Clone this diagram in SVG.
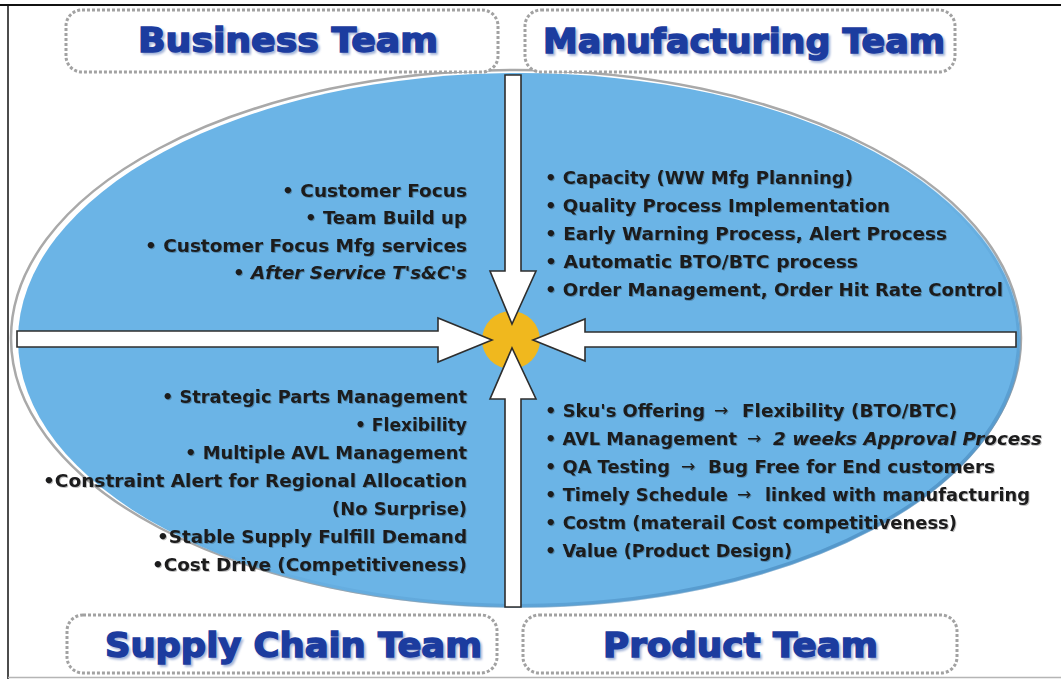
<svg xmlns="http://www.w3.org/2000/svg" width="1061" height="679" viewBox="0 0 1061 679">
  <style>
    .body { font-family: "DejaVu Sans", "Liberation Sans", sans-serif; font-weight: bold; font-size: 18.5px; fill: #1b1b1d; }
    .it { font-style: italic; }
    .sym { font-family: "DejaVu Sans", "Liberation Sans", sans-serif; font-weight: normal; font-size: 17px; fill: #1b1b1d; }
    .team { font-family: "DejaVu Sans", "Liberation Sans", sans-serif; font-weight: bold; font-size: 34px; fill: #1c3c9f; stroke: #1c3c9f; stroke-width: 1.5; }
    .team-shadow { font-family: "DejaVu Sans", "Liberation Sans", sans-serif; font-weight: bold; font-size: 34px; fill: #a3b3d8; stroke: #a3b3d8; stroke-width: 1.5; }
    .box { fill: #ffffff; stroke: #a2a2a2; stroke-width: 3; stroke-dasharray: 3 2; }
    .arrow { fill: #ffffff; stroke: #2e2e2e; stroke-width: 1.6; stroke-linejoin: miter; }
  </style>
  <defs>
    <linearGradient id="rimShade" x1="0" y1="0" x2="1" y2="1">
      <stop offset="0.45" stop-color="#6bb4e6" stop-opacity="0"/>
      <stop offset="1" stop-color="#3f7fb4"/>
    </linearGradient>
    <filter id="soft" x="-5%" y="-20%" width="110%" height="140%">
      <feGaussianBlur stdDeviation="1.2"/>
    </filter>
    <filter id="txtShadow" x="-2%" y="-20%" width="104%" height="140%">
      <feDropShadow dx="1" dy="1" stdDeviation="0.6" flood-color="#000000" flood-opacity="0.25"/>
    </filter>
  </defs>

  <!-- page -->
  <rect x="0" y="0" width="1061" height="679" fill="#ffffff"/>
  <line x1="0" y1="5" x2="1061" y2="5" stroke="#111" stroke-width="2"/>
  <line x1="8" y1="5" x2="8" y2="679" stroke="#111" stroke-width="1.5"/>
  <line x1="8" y1="677.5" x2="1061" y2="677.5" stroke="#b5b5b5" stroke-width="1.5"/>

  <!-- central oval with rim and shading -->
  <g id="oval">
    <ellipse cx="516" cy="338" rx="505" ry="268" fill="#ffffff" stroke="#a9a9a9" stroke-width="2.5"/>
    <ellipse cx="519" cy="340" rx="501" ry="267" fill="#6bb4e6"/>
    <ellipse cx="519" cy="340" rx="500" ry="266" fill="none" stroke="url(#rimShade)" stroke-width="4"/>
  </g>

  <!-- team labels -->
  <g id="business-team">
    <rect class="box" x="66" y="10" width="432" height="62" rx="16"/>
    <text class="team-shadow" x="140" y="54" textLength="300" lengthAdjust="spacingAndGlyphs" filter="url(#soft)">Business Team</text>
    <text class="team" x="138" y="52" textLength="300" lengthAdjust="spacingAndGlyphs">Business Team</text>
  </g>
  <g id="manufacturing-team">
    <rect class="box" x="525" y="10" width="430" height="62" rx="16"/>
    <text class="team-shadow" x="545" y="55" textLength="402" lengthAdjust="spacingAndGlyphs" filter="url(#soft)">Manufacturing Team</text>
    <text class="team" x="543" y="53" textLength="402" lengthAdjust="spacingAndGlyphs">Manufacturing Team</text>
  </g>
  <g id="supply-chain-team">
    <rect class="box" x="67" y="615" width="430" height="58" rx="16"/>
    <text class="team-shadow" x="107" y="659" textLength="377" lengthAdjust="spacingAndGlyphs" filter="url(#soft)">Supply Chain Team</text>
    <text class="team" x="105" y="657" textLength="377" lengthAdjust="spacingAndGlyphs">Supply Chain Team</text>
  </g>
  <g id="product-team">
    <rect class="box" x="523" y="615" width="434" height="58" rx="16"/>
    <text class="team-shadow" x="605" y="659" textLength="275" lengthAdjust="spacingAndGlyphs" filter="url(#soft)">Product Team</text>
    <text class="team" x="603" y="657" textLength="275" lengthAdjust="spacingAndGlyphs">Product Team</text>
  </g>

  <!-- quadrant item lists -->
  <g id="business-items" class="body" filter="url(#txtShadow)">
    <text x="282" y="197" textLength="185" lengthAdjust="spacingAndGlyphs">• Customer Focus</text>
    <text x="305" y="224" textLength="162" lengthAdjust="spacingAndGlyphs">• Team Build up</text>
    <text x="145" y="252" textLength="322" lengthAdjust="spacingAndGlyphs">• Customer Focus Mfg services</text>
    <text class="it" x="233" y="279" textLength="234" lengthAdjust="spacingAndGlyphs">• After Service T's&amp;C's</text>
  </g>
  <g id="manufacturing-items" class="body" filter="url(#txtShadow)">
    <text x="545" y="184" textLength="308" lengthAdjust="spacingAndGlyphs">• Capacity (WW Mfg Planning)</text>
    <text x="545" y="212" textLength="345" lengthAdjust="spacingAndGlyphs">• Quality Process Implementation</text>
    <text x="545" y="240" textLength="402" lengthAdjust="spacingAndGlyphs">• Early Warning Process, Alert Process</text>
    <text x="545" y="268" textLength="313" lengthAdjust="spacingAndGlyphs">• Automatic BTO/BTC process</text>
    <text x="545" y="296" textLength="458" lengthAdjust="spacingAndGlyphs">• Order Management, Order Hit Rate Control</text>
  </g>
  <g id="supply-chain-items" class="body" filter="url(#txtShadow)">
    <text x="162" y="403" textLength="305" lengthAdjust="spacingAndGlyphs">• Strategic Parts Management</text>
    <text x="355" y="431" textLength="112" lengthAdjust="spacingAndGlyphs">• Flexibility</text>
    <text x="185" y="459" textLength="282" lengthAdjust="spacingAndGlyphs">• Multiple AVL Management</text>
    <text x="43" y="487" textLength="424" lengthAdjust="spacingAndGlyphs">•Constraint Alert for Regional Allocation</text>
    <text x="332" y="515" textLength="135" lengthAdjust="spacingAndGlyphs">(No Surprise)</text>
    <text x="157" y="543" textLength="310" lengthAdjust="spacingAndGlyphs">•Stable Supply Fulfill Demand</text>
    <text x="152" y="571" textLength="315" lengthAdjust="spacingAndGlyphs">•Cost Drive (Competitiveness)</text>
  </g>
  <g id="product-items" class="body" filter="url(#txtShadow)">
    <text x="545" y="417" textLength="160" lengthAdjust="spacingAndGlyphs">• Sku's Offering</text>
    <text class="sym" x="714" y="416">→</text>
    <text x="742" y="417" textLength="215" lengthAdjust="spacingAndGlyphs">Flexibility (BTO/BTC)</text>

    <text x="545" y="445" textLength="192" lengthAdjust="spacingAndGlyphs">• AVL Management</text>
    <text class="sym" x="747" y="444">→</text>
    <text class="it" x="773" y="445" textLength="269" lengthAdjust="spacingAndGlyphs">2 weeks Approval Process</text>

    <text x="545" y="473" textLength="125" lengthAdjust="spacingAndGlyphs">• QA Testing</text>
    <text class="sym" x="681" y="472">→</text>
    <text x="708" y="473" textLength="287" lengthAdjust="spacingAndGlyphs">Bug Free for End customers</text>

    <text x="545" y="501" textLength="183" lengthAdjust="spacingAndGlyphs">• Timely Schedule</text>
    <text class="sym" x="737" y="500">→</text>
    <text x="765" y="501" textLength="265" lengthAdjust="spacingAndGlyphs">linked with manufacturing</text>

    <text x="545" y="529" textLength="412" lengthAdjust="spacingAndGlyphs">• Costm (materail Cost competitiveness)</text>
    <text x="545" y="557" textLength="247" lengthAdjust="spacingAndGlyphs">• Value (Product Design)</text>
  </g>

  <!-- hub -->
  <g id="hub">
    <circle cx="511" cy="340" r="29" fill="#f0b81e"/>
  </g>

  <!-- converging arrows -->
  <g id="connectors">
    <polygon class="arrow" points="17,331 438,331 438,318 492,340 438,362 438,347 17,347"/>
    <polygon class="arrow" points="1016,332 585,332 585,319 533,340 585,361 585,347 1016,347"/>
    <polygon class="arrow" points="505,75 521,75 521,271 536,271 512,324 490,271 505,271"/>
    <polygon class="arrow" points="505,607 505,399 490,399 512,348 536,399 521,399 521,607"/>
  </g>
</svg>
